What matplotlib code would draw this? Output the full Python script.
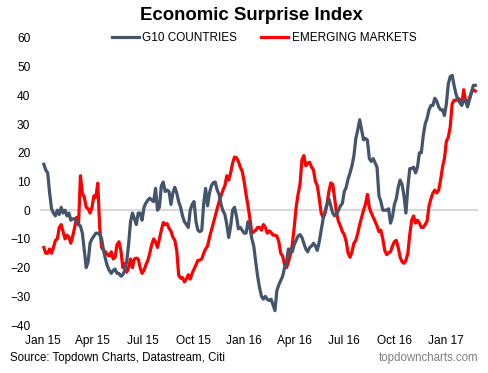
import matplotlib
matplotlib.use("Agg")
import matplotlib.pyplot as plt
import matplotlib.dates as mdates
import pandas as pd

plt.rcParams['font.family'] = ['Liberation Sans', 'DejaVu Sans']

title = "Economic Surprise Index"
series_names = ["G10 COUNTRIES", "EMERGING MARKETS"]
start_date = "2015-01-02"
step = "84h"  # twice-weekly readings

g10 = [16, 14, 13, 6, 0.5, -1, -2, 0, -1.5, 1,
       -1, 0, -2, -1, -3.5, -3, -3, -4, -5, -5.5,
       -8, -14, -20, -18, -11.5, -10, -9, -8, -8, -8.5,
       -10, -14, -17, -19.5, -21, -22, -21, -20.5, -22, -22,
       -23, -22.5, -21, -18, -12, -4, -1, -3, -5, -1,
       -1, -3.5, 1, 2.5, 3.5, 4.2, 3.5, 3, 7.6, 0,
       1, 8.5, 9.8, 6.5, 7, 6.5, 2, 6, 8, 6,
       3, 1, -2, -4, -5, -6, 0, 2, 3, -4,
       -7, -7.5, -7, 2.4, 7.6, 1.5, 6, 8.5, 9.6, 9.8,
       7, 5.5, 2, -0.2, -1.5, -5, -9.5, -5.5, 0, 1,
       -2, -6.5, -6, -7, -8, -8, -4, -6, -10, -12.5,
       -18, -23, -27, -30, -31, -30, -31, -31.5, -31, -33,
       -35, -28, -26, -24.5, -23, -20, -18, -13.5, -14, -14.5,
       -12, -10.5, -9, -8.5, -9.5, -11.5, -13.5, -14.5, -13, -12.5,
       -11.5, -12.5, -14, -11, -7, -3, -0.5, 2, 4, 1.5,
       -1, -2, -1.5, 0, 1.5, 2.4, 6.5, 8, 11, 13,
       15.5, 19, 25, 28, 31.5, 28, 24.5, 25, 24.4, 18,
       17, 18, 16.5, 15, 5, 3, 0, 0, 0, 0.5,
       -4.5, -2.4, 2, 4, 8, 10.5, 9, 5, -1, 8,
       14.5, 14.5, 15, 13, 15, 20, 20, 26, 30, 32,
       35, 36.5, 36.5, 39, 38, 36, 35, 35, 33, 37,
       44, 46.5, 47, 43.5, 40.5, 38.5, 37.5, 36.5, 38.5, 38,
       36, 38.5, 41, 43.5, 43.5]

em = [-13, -15, -15, -13.5, -15, -13, -10.5, -10, -6, -5,
      -7.5, -10, -8.7, -9.4, -11.5, -9, -6, -2.5, -5, 12,
      6, 4.5, 1, 0.5, -1, 1, 5, 4.5, 9.4, -6,
      -13, -14, -14.5, -15.5, -16, -14.5, -17, -16.4, -12, -11,
      -14, -20, -18.5, -21.6, -20, -17, -20, -17, -16.7, -17,
      -20, -22, -21, -19, -17.5, -15, -12, -10, -11, -13,
      -10, -7, -4.3, -5, -4.7, -6.3, -7.3, -9.4, -10.5, -14,
      -22.6, -23.7, -23.5, -25, -24, -22.5, -24, -22, -20.5, -19,
      -17.5, -17.4, -17, -15, -13.5, -12.5, -9.5, -7, -4.5, -2,
      0.5, 3, 5, 7, 8.5, 12, 10.5, 13, 16.4, 18.5,
      18.3, 17, 15, 13.5, 10, 5.5, 1.5, -3, -8, -7.5,
      -7, -6, -6, -7, -5, -6, -8, -7.2, -7.8, -8.7,
      -8.7, -9, -11, -15, -16, -19, -20, -18, -15.5, -12,
      -6, 1, 5.5, 9, 17.5, 19, 15.5, 16.4, 16.7, 15,
      14, 10, 8.5, 4, -1, -2.5, -1, 2, 6.5, 9.5,
      9, 4, -1, -4, -5.5, -7.5, -8.5, -11, -15, -16.4,
      -14.5, -11.5, -10.5, -8, -5, -2.5, 0, 2, 5.5, 1,
      -1, -2.4, -4, -5.5, -7.5, -7, -10, -14, -15.5, -14.8,
      -14.5, -12.5, -11, -10.5, -13, -16.4, -18, -18.5, -17.5, -15,
      -8.5, -3.5, -2, -4.5, -3.5, -4.5, -6, -6, -5, -3.8,
      1.5, 4, 6, 7, 6, 7, 10.5, 15, 18, 24,
      25.4, 29, 37, 38.3, 38.3, 39, 38.5, 37, 42, 38,
      37.5, 39, 41, 42, 41.5]

y_ticks = [-40, -30, -20, -10, 0, 10, 20, 30, 40, 50, 60]
source_text = "Source: Topdown Charts, Datastream, Citi"
site_text = "topdowncharts.com"

dates = pd.date_range(start_date, periods=len(g10), freq=step)

fig = plt.figure(figsize=(4.89, 3.73), dpi=100)
ax = fig.add_axes([40/489, 1-325/373, (478-40)/489, (325-38)/373])

ax.axhline(0, color="#D9D9D9", lw=1.5, zorder=1)
l1, = ax.plot(dates, g10, color="#44546A", lw=2.3, label=series_names[0],
              zorder=3, solid_joinstyle="round")
l2, = ax.plot(dates, em, color="#FF0000", lw=2.3, label=series_names[1],
              zorder=2, solid_joinstyle="round")

ax.set_ylim(-40, 60)
ax.set_yticks(y_ticks)
ax.set_xlim(pd.Timestamp("2014-12-26"), pd.Timestamp("2017-03-01"))
ax.xaxis.set_major_locator(mdates.MonthLocator(bymonth=[1, 4, 7, 10]))
ax.xaxis.set_major_formatter(mdates.DateFormatter("%b %y"))
ax.tick_params(axis="both", length=0, labelsize=8.6, colors="#000000")
ax.tick_params(axis="y", pad=7)
ax.tick_params(axis="x", pad=7)
for s in ax.spines.values():
    s.set_visible(False)

fig.text(251/489, 1-15/373, title, ha="center", va="center",
         fontsize=13.4, fontweight="bold")
fig.legend(handles=[l1, l2], loc="center", bbox_to_anchor=(264/489, 1-38/373),
           ncol=2, frameon=False, fontsize=8.5, handlelength=2.3,
           handletextpad=0.3, columnspacing=2.0, borderpad=0, borderaxespad=0)
fig.text(10/489, 1-358/373, source_text, ha="left", va="center", fontsize=8.3)
fig.text(478/489, 1-358/373, site_text, ha="right", va="center",
         fontsize=8.3, color="#7F7F7F")

fig.savefig("out.png", dpi=100)
